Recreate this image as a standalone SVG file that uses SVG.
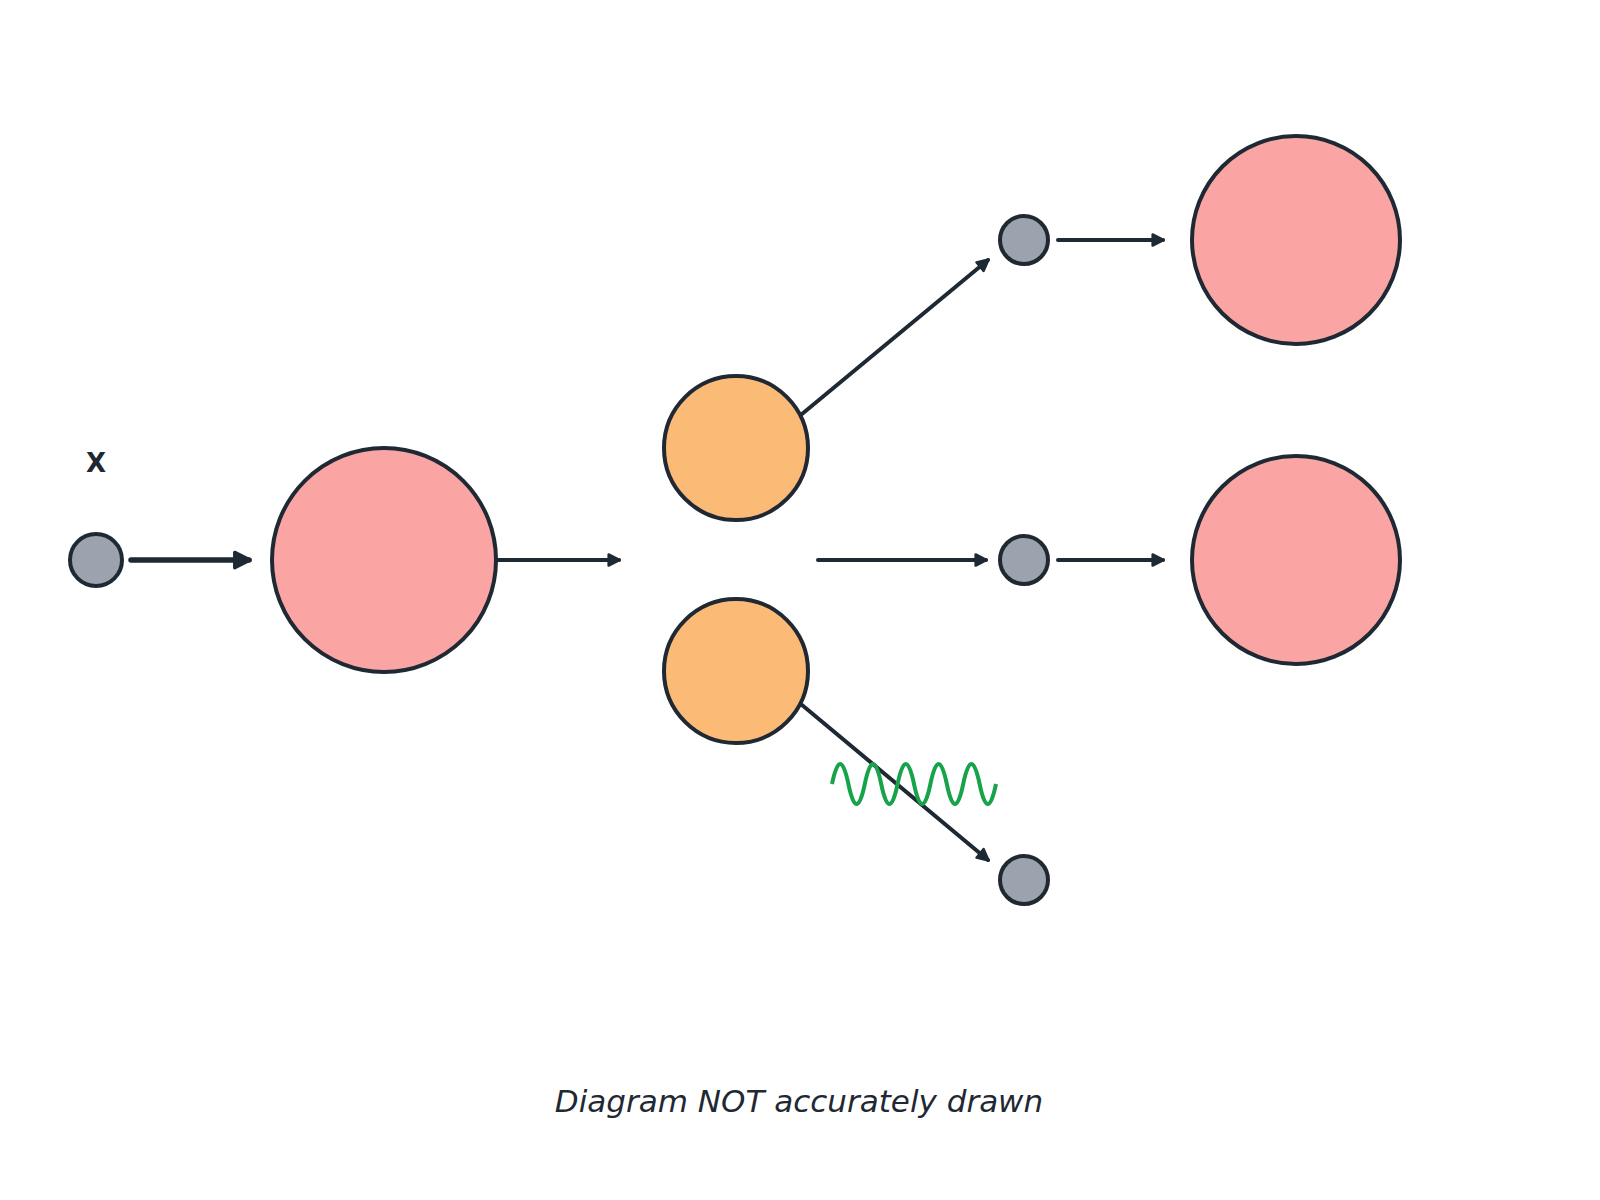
<svg xmlns="http://www.w3.org/2000/svg" width="1600" height="1200" viewBox="0 0 1600 1200">
<defs>
<style>
.n{stroke:#1f2933;stroke-width:4}
.g{fill:#9ca3af}.p{fill:#faa5a3}.o{fill:#fcba77}
.c{stroke:#1f2933;stroke-width:4;fill:none;stroke-linecap:round;marker-end:url(#a)}
text{font-family:"DejaVu Sans","Noto Sans",sans-serif;fill:#1f2933}
</style>
<marker id="a" viewBox="0 0 10 10" refX="8" refY="5" markerWidth="4" markerHeight="4" orient="auto" markerUnits="strokeWidth"><path d="M1.5,1.5 L8.5,5 L1.5,8.5 Z" fill="#1f2933" stroke="#1f2933" stroke-width="1.5" stroke-linejoin="round"/></marker>
</defs>
<rect width="1600" height="1200" fill="#fff"/>
<g id="connectors">
<line class="c" x1="131" y1="560" x2="249" y2="560" style="stroke-width:5.5"/>
<line class="c" x1="497" y1="560" x2="619" y2="560"/>
<line class="c" x1="802" y1="414" x2="988" y2="260"/>
<line class="c" x1="818" y1="560" x2="986" y2="560"/>
<line class="c" x1="802" y1="705" x2="988" y2="860"/>
<line class="c" x1="1058" y1="240" x2="1163" y2="240"/>
<line class="c" x1="1058" y1="560" x2="1163" y2="560"/>
<path d="M832,784 q8.2,-40 16.4,0 t16.4,0 t16.4,0 t16.4,0 t16.4,0 t16.4,0 t16.4,0 t16.4,0 t16.4,0 t16.4,0" fill="none" stroke="#16a34a" stroke-width="4"/>
</g>
<g id="x"><circle class="n g" cx="96" cy="560" r="26"/><text x="96" y="472" text-anchor="middle" font-size="26" font-weight="bold">X</text></g>
<g id="big"><circle class="n p" cx="384" cy="560" r="112"/></g>
<g id="o1"><circle class="n o" cx="736" cy="448" r="72"/></g>
<g id="o2"><circle class="n o" cx="736" cy="671" r="72"/></g>
<g id="g1"><circle class="n g" cx="1024" cy="240" r="24"/></g>
<g id="g2"><circle class="n g" cx="1024" cy="560" r="24"/></g>
<g id="g3"><circle class="n g" cx="1024" cy="880" r="24"/></g>
<g id="p1"><circle class="n p" cx="1296" cy="240" r="104"/></g>
<g id="p2"><circle class="n p" cx="1296" cy="560" r="104"/></g>
<text x="799" y="1112" text-anchor="middle" font-size="31" font-style="italic">Diagram NOT accurately drawn</text>
</svg>
